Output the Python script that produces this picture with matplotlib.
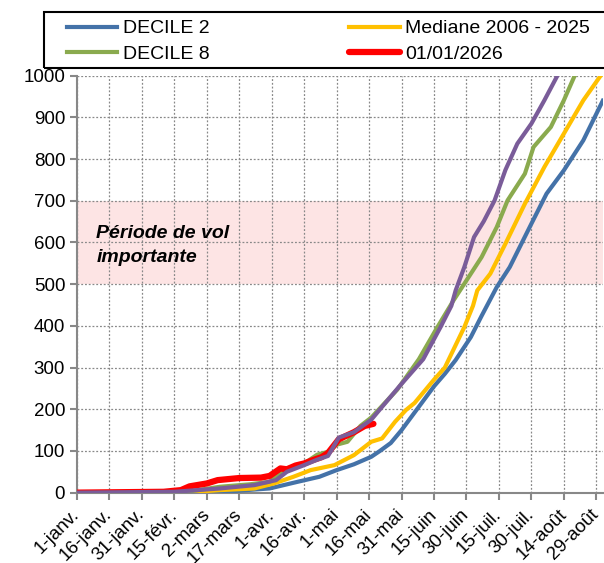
import matplotlib
matplotlib.use("Agg")
import matplotlib.pyplot as plt
from matplotlib.patches import Rectangle

plt.rcParams['font.family'] = ['Liberation Sans', 'DejaVu Sans']

# day of year (0 = 1 janv.) and cumulative counts
decile2_days = [0, 70, 89, 102, 112, 120, 128, 136, 140, 145, 150, 157, 165, 170, 175,
                182, 187, 194, 200, 210, 217, 225, 234, 243]
decile2_vals = [0, 3, 10, 26, 38, 54, 68, 86, 100, 119, 150, 199, 255, 285, 318,
                373, 424, 493, 541, 645, 717, 773, 845, 940]

mediane_days = [0, 55, 66, 82, 91, 100, 108, 119, 128, 136, 141, 147, 152, 156, 165,
                170, 179, 183, 185, 191, 198, 207, 216, 225, 234, 242]
mediane_vals = [0, 2, 6, 10, 22, 38, 54, 66, 90, 122, 130, 170, 198, 215, 271,
                300, 397, 448, 485, 525, 597, 693, 781, 861, 941, 1000]

decile8_days = [0, 40, 52, 66, 80, 89, 97, 105, 111, 116, 120, 125, 131, 136, 148,
                158, 166, 174, 179, 187, 194, 199, 207, 211, 219, 225, 230]
decile8_vals = [0, 0, 3, 14, 20, 26, 58, 70, 91, 98, 115, 122, 160, 180, 247,
                320, 392, 461, 501, 565, 637, 701, 765, 829, 877, 941, 1000]

decile9_days = [0, 45, 66, 82, 92, 97, 105, 111, 116, 121, 128, 136, 149, 160, 168,
                173, 175, 179, 183.5, 188, 193, 198, 203.5, 210, 216, 222]
decile9_vals = [0, 2, 10, 18, 30, 50, 66, 79, 88, 132, 145, 175, 255, 320, 397,
                448, 485, 541, 613, 651, 701, 774, 837, 885, 941, 1000]

y2026_days = [0, 40, 48, 52, 60, 65, 75, 85, 89, 94, 97, 101, 105, 109, 113, 116,
              121, 128, 133, 137]
y2026_vals = [0, 2, 6, 15, 22, 30, 35, 36, 40, 58, 56, 65, 70, 78, 85, 95,
              128, 145, 160, 165]

date_labels = ['1-janv.', '16-janv.', '31-janv.', '15-févr.', '2-mars', '17-mars',
               '1-avr.', '16-avr.', '1-mai', '16-mai', '31-mai', '15-juin',
               '30-juin', '15-juil.', '30-juil.', '14-août', '29-août']
y_ticks = [0, 100, 200, 300, 400, 500, 600, 700, 800, 900, 1000]

fig = plt.figure(figsize=(6.04, 5.63), dpi=100)
ax = fig.add_axes([0.1275, 0.125, 0.8705, 0.7405])

ax.axhspan(500, 700, color='#fde4e4', zorder=0, lw=0)

l_d2, = ax.plot(decile2_days, decile2_vals, color='#4472a8', lw=3, zorder=3)
l_med, = ax.plot(mediane_days, mediane_vals, color='#ffc000', lw=3, zorder=3)
l_d8, = ax.plot(decile8_days, decile8_vals, color='#8aaa4e', lw=3, zorder=3)
l_26, = ax.plot(y2026_days, y2026_vals, color='#ff0000', lw=4.5, zorder=4,
                solid_capstyle='round')
ax.plot(decile9_days, decile9_vals, color='#7a5c99', lw=3, zorder=5)

ax.set_xlim(0, 243)
ax.set_ylim(0, 1000)
ax.set_yticks(y_ticks)
ax.set_xticks([15 * i for i in range(len(date_labels))])
ax.set_xticklabels(date_labels, rotation=45, ha='right', va='center',
                   rotation_mode='anchor')
ax.tick_params(labelsize=13.5, colors='#888888', labelcolor='black', length=5, width=1.5)
ax.tick_params(axis='x', pad=9)

ax.grid(True, color='#888888', linestyle=(0, (1.5, 1.5)), linewidth=0.9, zorder=1)
ax.set_axisbelow(True)
for side in ['top', 'right']:
    ax.spines[side].set_visible(False)
for side in ['left', 'bottom']:
    ax.spines[side].set_color('#888888')
    ax.spines[side].set_linewidth(1.5)

ax.text(9, 592, 'Période de vol\nimportante', fontsize=14, fontweight='bold',
        fontstyle='italic', va='center', ha='left', linespacing=1.55, zorder=6)

# legend frame runs past the right edge, as in the source image
fig.patches.append(Rectangle((44 / 604, 1 - 68 / 563), 0.95, 55.5 / 563,
                             transform=fig.transFigure, fill=False,
                             edgecolor='black', lw=1.5, zorder=10))
fig.legend([l_d2, l_d8, l_med, l_26],
           ['DECILE 2', 'DECILE 8', 'Mediane 2006 - 2025', '01/01/2026'],
           ncol=2, loc='upper left', bbox_to_anchor=(59 / 604, 1 - 12 / 563),
           frameon=False, fontsize=14, handlelength=2.6, handletextpad=0.28,
           columnspacing=7.2, labelspacing=0.4, borderaxespad=0)

fig.savefig('out.png', dpi=100)
